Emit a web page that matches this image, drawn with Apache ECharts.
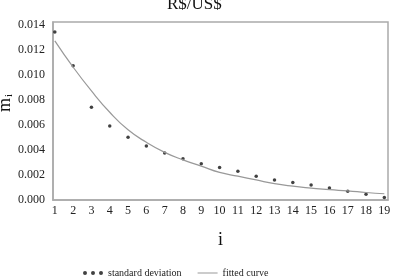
<!DOCTYPE html>
<html>
<head>
<meta charset="utf-8">
<script src="https://cdn.jsdelivr.net/npm/echarts@6/dist/echarts.min.js"></script>
<style>
	html, body { margin: 0; padding: 0; background: #fff; }
	#chart { width: 396px; height: 278px; }
</style>
</head>
<body>
<div id="chart"></div>
<script>
	// 横轴 i
	var steps = [1, 2, 3, 4, 5, 6, 7, 8, 9, 10, 11, 12, 13, 14, 15, 16, 17, 18, 19];
	// 标准差 (点)
	var stdDev = [0.0134, 0.0107, 0.0074, 0.0059, 0.0050, 0.0043, 0.00375, 0.0033, 0.0029, 0.0026,
		0.0023, 0.0019, 0.0016, 0.0014, 0.0012, 0.00095, 0.0007, 0.00045, 0.0002];
	// 拟合曲线
	var fitted = [0.0127, 0.0106, 0.0087, 0.0070, 0.0056, 0.0046, 0.0038, 0.0032, 0.0027, 0.0022,
		0.0019, 0.0016, 0.0013, 0.0011, 0.00095, 0.00082, 0.00073, 0.0006, 0.0005];
	// 纵轴刻度
	var yTicks = [0, 0.002, 0.004, 0.006, 0.008, 0.010, 0.012, 0.014];

	var serif = 'Liberation Serif';
	var dots = 'path://M0,2a2,2 0 1,0 4,0a2,2 0 1,0 -4,0ZM8,2a2,2 0 1,0 4,0a2,2 0 1,0 -4,0ZM16,2a2,2 0 1,0 4,0a2,2 0 1,0 -4,0Z';

	var chart = echarts.init(document.getElementById('chart'));
	chart.setOption({
		animation: false,
		title: {
			text: 'R$/US$',
			left: 162,
			top: -9,
			textStyle: { fontFamily: serif, fontSize: 17, fontWeight: 'normal', color: '#111' }
		},
		grid: {
			left: 53, right: 8, top: 22, bottom: 78,
			outerBoundsMode: 'none',
			containLabel: false,
			show: true, borderColor: '#aaa', borderWidth: 1.5
		},
		// 纵轴名称 m_i (竖排)
		graphic: [{
			type: 'text',
			x: 5,
			y: 103,
			rotation: Math.PI / 2,
			style: {
				text: '{m|m}{s|i}',
				align: 'center',
				verticalAlign: 'middle',
				rich: {
					m: { fontFamily: serif, fontSize: 18, fill: '#111' },
					s: { fontFamily: serif, fontSize: 11, fill: '#111', padding: [9, 0, 0, 1] }
				}
			}
		}],
		legend: {
			left: 78,
			top: 263,
			itemWidth: 20,
			itemHeight: 4,
			itemGap: 16,
			textStyle: { fontFamily: serif, fontSize: 10, color: '#222' },
			data: [
				{ name: 'standard deviation', icon: dots },
				{ name: 'fitted curve', icon: 'path://M0,0H20V1H0Z' }
			]
		},
		xAxis: {
			type: 'value',
			min: 0.9,
			max: 19.2,
			name: 'i',
			nameLocation: 'middle',
			nameGap: 31,
			nameTextStyle: { fontFamily: serif, fontSize: 18, color: '#111' },
			axisLine: { show: true, lineStyle: { color: '#aaa', width: 1.5 } },
			axisTick: { show: false },
			splitLine: { show: false },
			axisLabel: {
				customValues: steps,
				margin: 5,
				fontFamily: serif, fontSize: 12, color: '#222'
			}
		},
		yAxis: {
			type: 'value',
			min: 0,
			max: 0.0142,
			axisLine: { show: true, lineStyle: { color: '#aaa', width: 1.5 } },
			axisTick: { show: false },
			splitLine: { show: false },
			axisLabel: {
				customValues: yTicks,
				margin: 8,
				fontFamily: serif, fontSize: 12, color: '#222',
				formatter: function (v) { return v.toFixed(3); }
			}
		},
		series: [
			{
				name: 'standard deviation',
				type: 'scatter',
				symbol: 'circle',
				symbolSize: 3.5,
				itemStyle: { color: '#111' },
				data: steps.map(function (s, k) { return [s, stdDev[k]]; })
			},
			{
				name: 'fitted curve',
				type: 'line',
				smooth: true,
				showSymbol: false,
				symbol: 'none',
				itemStyle: { color: '#999' },
				lineStyle: { color: '#999', width: 1.2 },
				data: steps.map(function (s, k) { return [s, fitted[k]]; })
			}
		]
	});
</script>
</body>
</html>
